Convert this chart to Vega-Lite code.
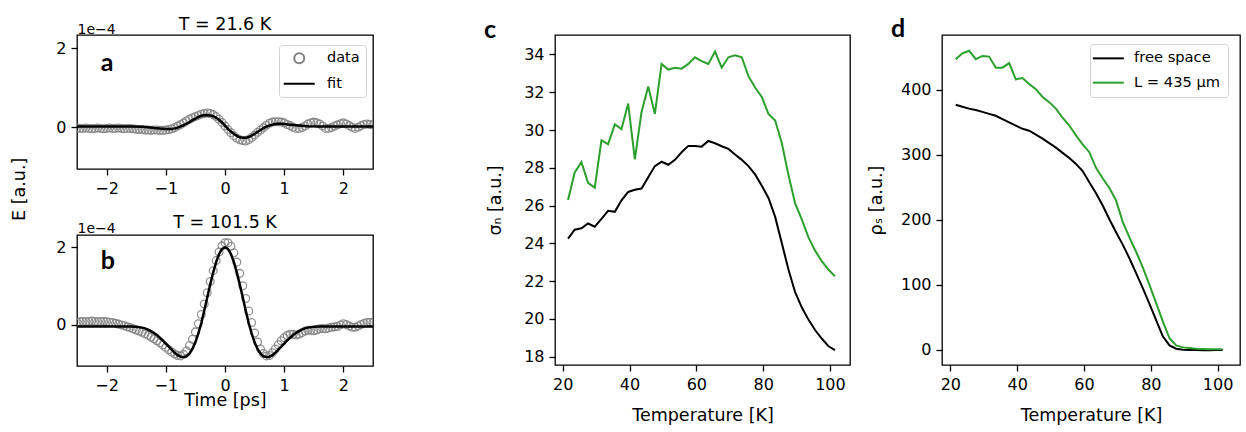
{
"$schema": "https://vega.github.io/schema/vega-lite/v6.json",
"background": "white",
"padding": {"left": 11, "top": 13, "right": 2, "bottom": 2},
"config": {
  "font": "DejaVu Sans",
  "view": {"stroke": "black", "strokeWidth": 1.3},
  "axis": {"domain": false, "grid": false, "tickColor": "black", "tickSize": 6, "tickWidth": 1.3, "labelColor": "black", "labelFont": "DejaVu Sans", "labelFontSize": 16, "labelPadding": 5, "titleColor": "black", "titleFont": "DejaVu Sans", "titleFontSize": 17.5, "titleFontWeight": "normal", "labelFlush": false, "labelOverlap": false},
  "title": {"font": "DejaVu Sans", "fontSize": 17.5, "fontWeight": "normal", "color": "black"},
  "legend": {"labelFont": "DejaVu Sans", "labelColor": "black"}
},
"datasets": {
  "a_data": [
{"t":-2.5,"E":-0.02},{"t":-2.45,"E":-0.03},{"t":-2.4,"E":-0.03},{"t":-2.35,"E":-0.02},{"t":-2.3,"E":-0.03},{"t":-2.25,"E":-0.04},{"t":-2.2,"E":-0.03},{"t":-2.15,"E":-0.02},{"t":-2.1,"E":-0.03},{"t":-2.05,"E":-0.04},
{"t":-2.0,"E":-0.03},{"t":-1.95,"E":-0.02},{"t":-1.9,"E":-0.03},{"t":-1.85,"E":-0.03},{"t":-1.8,"E":-0.02},{"t":-1.75,"E":-0.03},{"t":-1.7,"E":-0.04},{"t":-1.65,"E":-0.03},{"t":-1.6,"E":-0.03},{"t":-1.55,"E":-0.04},
{"t":-1.5,"E":-0.05},{"t":-1.45,"E":-0.06},{"t":-1.4,"E":-0.06},{"t":-1.35,"E":-0.07},{"t":-1.3,"E":-0.07},{"t":-1.25,"E":-0.08},{"t":-1.2,"E":-0.07},{"t":-1.15,"E":-0.07},{"t":-1.1,"E":-0.08},{"t":-1.05,"E":-0.08},
{"t":-1.0,"E":-0.07},{"t":-0.95,"E":-0.06},{"t":-0.9,"E":-0.04},{"t":-0.85,"E":-0.01},{"t":-0.8,"E":0.03},{"t":-0.75,"E":0.07},{"t":-0.7,"E":0.11},{"t":-0.65,"E":0.16},{"t":-0.6,"E":0.2},{"t":-0.55,"E":0.24},
{"t":-0.5,"E":0.27},{"t":-0.45,"E":0.3},{"t":-0.4,"E":0.33},{"t":-0.35,"E":0.35},{"t":-0.3,"E":0.36},{"t":-0.25,"E":0.35},{"t":-0.2,"E":0.32},{"t":-0.15,"E":0.27},{"t":-0.1,"E":0.2},{"t":-0.05,"E":0.12},
{"t":0.0,"E":0.03},{"t":0.05,"E":-0.06},{"t":0.1,"E":-0.14},{"t":0.15,"E":-0.22},{"t":0.2,"E":-0.28},{"t":0.25,"E":-0.32},{"t":0.3,"E":-0.34},{"t":0.35,"E":-0.35},{"t":0.4,"E":-0.31},{"t":0.45,"E":-0.26},
{"t":0.5,"E":-0.2},{"t":0.55,"E":-0.13},{"t":0.6,"E":-0.07},{"t":0.65,"E":-0.01},{"t":0.7,"E":0.05},{"t":0.75,"E":0.1},{"t":0.8,"E":0.13},{"t":0.85,"E":0.14},{"t":0.9,"E":0.14},{"t":0.95,"E":0.13},
{"t":1.0,"E":0.11},{"t":1.05,"E":0.07},{"t":1.1,"E":0.04},{"t":1.15,"E":0.0},{"t":1.2,"E":-0.03},{"t":1.25,"E":-0.03},{"t":1.3,"E":-0.01},{"t":1.35,"E":0.03},{"t":1.4,"E":0.08},{"t":1.45,"E":0.11},
{"t":1.5,"E":0.13},{"t":1.55,"E":0.11},{"t":1.6,"E":0.08},{"t":1.65,"E":0.03},{"t":1.7,"E":-0.03},{"t":1.75,"E":-0.03},{"t":1.8,"E":-0.01},{"t":1.85,"E":0.03},{"t":1.9,"E":0.06},{"t":1.95,"E":0.09},
{"t":2.0,"E":0.11},{"t":2.05,"E":0.08},{"t":2.1,"E":0.04},{"t":2.15,"E":0.0},{"t":2.2,"E":-0.03},{"t":2.25,"E":0.0},{"t":2.3,"E":0.04},{"t":2.35,"E":0.07},{"t":2.4,"E":0.08},{"t":2.45,"E":0.07},{"t":2.5,"E":0.06}
  ],
  "a_fit": [
{"t":-2.5,"E":0.02},{"t":-2.0,"E":0.02},{"t":-1.6,"E":0.02},{"t":-1.4,"E":0.01},{"t":-1.3,"E":0.0},{"t":-1.2,"E":-0.02},{"t":-1.1,"E":-0.035},{"t":-1.0,"E":-0.045},{"t":-0.9,"E":-0.045},{"t":-0.85,"E":-0.03},
{"t":-0.8,"E":-0.01},{"t":-0.75,"E":0.02},{"t":-0.7,"E":0.05},{"t":-0.65,"E":0.09},{"t":-0.6,"E":0.13},{"t":-0.55,"E":0.18},{"t":-0.5,"E":0.22},{"t":-0.45,"E":0.26},{"t":-0.4,"E":0.29},{"t":-0.35,"E":0.305},
{"t":-0.3,"E":0.31},{"t":-0.25,"E":0.3},{"t":-0.2,"E":0.28},{"t":-0.15,"E":0.24},{"t":-0.1,"E":0.19},{"t":-0.05,"E":0.12},{"t":0.0,"E":0.04},{"t":0.05,"E":-0.04},{"t":0.1,"E":-0.11},{"t":0.15,"E":-0.17},
{"t":0.2,"E":-0.22},{"t":0.25,"E":-0.255},{"t":0.3,"E":-0.27},{"t":0.35,"E":-0.27},{"t":0.4,"E":-0.25},{"t":0.45,"E":-0.215},{"t":0.5,"E":-0.17},{"t":0.55,"E":-0.12},{"t":0.6,"E":-0.07},{"t":0.65,"E":-0.025},
{"t":0.7,"E":0.015},{"t":0.75,"E":0.045},{"t":0.8,"E":0.065},{"t":0.85,"E":0.08},{"t":0.9,"E":0.085},{"t":0.95,"E":0.085},{"t":1.0,"E":0.08},{"t":1.1,"E":0.065},{"t":1.2,"E":0.05},{"t":1.3,"E":0.035},
{"t":1.4,"E":0.025},{"t":1.6,"E":0.02},{"t":2.0,"E":0.02},{"t":2.5,"E":0.02}
  ],
  "b_data": [
{"t":-2.5,"E":0.07},{"t":-2.45,"E":0.08},{"t":-2.4,"E":0.09},{"t":-2.35,"E":0.08},{"t":-2.3,"E":0.09},{"t":-2.25,"E":0.1},{"t":-2.2,"E":0.09},{"t":-2.15,"E":0.08},{"t":-2.1,"E":0.09},{"t":-2.05,"E":0.09},
{"t":-2.0,"E":0.08},{"t":-1.95,"E":0.07},{"t":-1.9,"E":0.06},{"t":-1.85,"E":0.04},{"t":-1.8,"E":0.02},{"t":-1.75,"E":0.0},{"t":-1.7,"E":-0.02},{"t":-1.65,"E":-0.05},{"t":-1.6,"E":-0.07},{"t":-1.55,"E":-0.1},
{"t":-1.5,"E":-0.13},{"t":-1.45,"E":-0.16},{"t":-1.4,"E":-0.19},{"t":-1.35,"E":-0.23},{"t":-1.3,"E":-0.27},{"t":-1.25,"E":-0.31},{"t":-1.2,"E":-0.36},{"t":-1.15,"E":-0.41},{"t":-1.1,"E":-0.46},{"t":-1.05,"E":-0.52},
{"t":-1.0,"E":-0.58},{"t":-0.95,"E":-0.64},{"t":-0.9,"E":-0.7},{"t":-0.85,"E":-0.75},{"t":-0.8,"E":-0.79},{"t":-0.75,"E":-0.8},{"t":-0.7,"E":-0.76},{"t":-0.65,"E":-0.67},{"t":-0.6,"E":-0.53},{"t":-0.55,"E":-0.37},
{"t":-0.5,"E":-0.18},{"t":-0.45,"E":0.03},{"t":-0.4,"E":0.27},{"t":-0.35,"E":0.54},{"t":-0.3,"E":0.83},{"t":-0.25,"E":1.12},{"t":-0.2,"E":1.4},{"t":-0.15,"E":1.66},{"t":-0.1,"E":1.88},{"t":-0.05,"E":2.04},
{"t":0.0,"E":2.12},{"t":0.05,"E":2.12},{"t":0.1,"E":2.03},{"t":0.15,"E":1.86},{"t":0.2,"E":1.62},{"t":0.25,"E":1.33},{"t":0.3,"E":1.01},{"t":0.35,"E":0.68},{"t":0.4,"E":0.36},{"t":0.45,"E":0.06},
{"t":0.5,"E":-0.21},{"t":0.55,"E":-0.44},{"t":0.6,"E":-0.62},{"t":0.65,"E":-0.74},{"t":0.7,"E":-0.8},{"t":0.75,"E":-0.79},{"t":0.8,"E":-0.72},{"t":0.85,"E":-0.62},{"t":0.9,"E":-0.51},{"t":0.95,"E":-0.41},
{"t":1.0,"E":-0.33},{"t":1.05,"E":-0.27},{"t":1.1,"E":-0.24},{"t":1.15,"E":-0.24},{"t":1.2,"E":-0.26},{"t":1.25,"E":-0.24},{"t":1.3,"E":-0.2},{"t":1.35,"E":-0.16},{"t":1.4,"E":-0.14},{"t":1.45,"E":-0.14},
{"t":1.5,"E":-0.15},{"t":1.55,"E":-0.13},{"t":1.6,"E":-0.1},{"t":1.65,"E":-0.09},{"t":1.7,"E":-0.1},{"t":1.75,"E":-0.08},{"t":1.8,"E":-0.06},{"t":1.85,"E":-0.05},{"t":1.9,"E":-0.04},{"t":1.95,"E":0.0},
{"t":2.0,"E":0.03},{"t":2.05,"E":0.01},{"t":2.1,"E":-0.03},{"t":2.15,"E":-0.06},{"t":2.2,"E":-0.06},{"t":2.25,"E":-0.03},{"t":2.3,"E":0.01},{"t":2.35,"E":0.04},{"t":2.4,"E":0.06},{"t":2.45,"E":0.07},{"t":2.5,"E":0.06}
  ],
  "b_fit": [
{"t":-2.5,"E":-0.04},{"t":-2.0,"E":-0.04},{"t":-1.6,"E":-0.04},{"t":-1.5,"E":-0.05},{"t":-1.4,"E":-0.07},{"t":-1.35,"E":-0.09},{"t":-1.3,"E":-0.12},{"t":-1.25,"E":-0.16},{"t":-1.2,"E":-0.21},{"t":-1.15,"E":-0.26},
{"t":-1.1,"E":-0.33},{"t":-1.05,"E":-0.4},{"t":-1.0,"E":-0.48},{"t":-0.95,"E":-0.56},{"t":-0.9,"E":-0.64},{"t":-0.85,"E":-0.72},{"t":-0.8,"E":-0.78},{"t":-0.75,"E":-0.82},{"t":-0.7,"E":-0.83},{"t":-0.65,"E":-0.81},
{"t":-0.6,"E":-0.74},{"t":-0.55,"E":-0.62},{"t":-0.5,"E":-0.45},{"t":-0.45,"E":-0.22},{"t":-0.4,"E":0.05},{"t":-0.35,"E":0.37},{"t":-0.3,"E":0.71},{"t":-0.25,"E":1.04},{"t":-0.2,"E":1.35},{"t":-0.15,"E":1.62},
{"t":-0.1,"E":1.83},{"t":-0.05,"E":1.96},{"t":0.0,"E":2.0},{"t":0.05,"E":1.96},{"t":0.1,"E":1.83},{"t":0.15,"E":1.62},{"t":0.2,"E":1.35},{"t":0.25,"E":1.04},{"t":0.3,"E":0.71},{"t":0.35,"E":0.37},
{"t":0.4,"E":0.05},{"t":0.45,"E":-0.22},{"t":0.5,"E":-0.45},{"t":0.55,"E":-0.62},{"t":0.6,"E":-0.74},{"t":0.65,"E":-0.81},{"t":0.7,"E":-0.83},{"t":0.75,"E":-0.82},{"t":0.8,"E":-0.78},{"t":0.85,"E":-0.72},
{"t":0.9,"E":-0.64},{"t":0.95,"E":-0.56},{"t":1.0,"E":-0.48},{"t":1.05,"E":-0.4},{"t":1.1,"E":-0.33},{"t":1.15,"E":-0.26},{"t":1.2,"E":-0.21},{"t":1.25,"E":-0.16},{"t":1.3,"E":-0.12},{"t":1.35,"E":-0.09},
{"t":1.4,"E":-0.07},{"t":1.5,"E":-0.05},{"t":1.6,"E":-0.04},{"t":2.0,"E":-0.04},{"t":2.5,"E":-0.04}
  ],
  "cd": [
{"T":21.6,"series":"free space","sigma":24.25,"rho":377},{"T":23.6,"series":"free space","sigma":24.72,"rho":374},{"T":25.6,"series":"free space","sigma":24.8,"rho":371},{"T":27.6,"series":"free space","sigma":25.05,"rho":369},
{"T":29.6,"series":"free space","sigma":24.88,"rho":366},{"T":31.6,"series":"free space","sigma":25.3,"rho":363},{"T":33.6,"series":"free space","sigma":25.72,"rho":360},{"T":35.6,"series":"free space","sigma":25.67,"rho":355},
{"T":37.6,"series":"free space","sigma":26.28,"rho":350},{"T":39.6,"series":"free space","sigma":26.72,"rho":345},{"T":41.6,"series":"free space","sigma":26.84,"rho":340},{"T":43.6,"series":"free space","sigma":26.9,"rho":337},
{"T":45.6,"series":"free space","sigma":27.5,"rho":331},{"T":47.6,"series":"free space","sigma":28.09,"rho":325},{"T":49.6,"series":"free space","sigma":28.32,"rho":318},{"T":51.6,"series":"free space","sigma":28.16,"rho":311},
{"T":53.6,"series":"free space","sigma":28.42,"rho":303},{"T":55.6,"series":"free space","sigma":28.82,"rho":295},{"T":57.6,"series":"free space","sigma":29.16,"rho":286},{"T":59.6,"series":"free space","sigma":29.16,"rho":275},
{"T":61.6,"series":"free space","sigma":29.12,"rho":258},{"T":63.6,"series":"free space","sigma":29.42,"rho":241},{"T":65.6,"series":"free space","sigma":29.3,"rho":222},{"T":67.6,"series":"free space","sigma":29.14,"rho":201},
{"T":69.6,"series":"free space","sigma":29.0,"rho":181},{"T":71.6,"series":"free space","sigma":28.7,"rho":162},{"T":73.6,"series":"free space","sigma":28.42,"rho":141},{"T":75.6,"series":"free space","sigma":28.09,"rho":118},
{"T":77.6,"series":"free space","sigma":27.65,"rho":95},{"T":79.6,"series":"free space","sigma":27.05,"rho":71},{"T":81.6,"series":"free space","sigma":26.4,"rho":46},{"T":83.6,"series":"free space","sigma":25.4,"rho":21},
{"T":85.6,"series":"free space","sigma":24.0,"rho":7},{"T":87.6,"series":"free space","sigma":22.6,"rho":2},{"T":89.6,"series":"free space","sigma":21.4,"rho":0.5},{"T":91.6,"series":"free space","sigma":20.6,"rho":0},
{"T":93.6,"series":"free space","sigma":19.95,"rho":0},{"T":95.6,"series":"free space","sigma":19.4,"rho":-0.5},{"T":97.6,"series":"free space","sigma":18.95,"rho":-0.5},{"T":99.6,"series":"free space","sigma":18.55,"rho":0},
{"T":101.5,"series":"free space","sigma":18.35,"rho":0},
{"T":21.6,"series":"L = 435 μm","sigma":26.3,"rho":447},{"T":23.6,"series":"L = 435 μm","sigma":27.75,"rho":456},{"T":25.6,"series":"L = 435 μm","sigma":28.3,"rho":460},{"T":27.6,"series":"L = 435 μm","sigma":27.2,"rho":447},
{"T":29.6,"series":"L = 435 μm","sigma":26.95,"rho":452},{"T":31.6,"series":"L = 435 μm","sigma":29.45,"rho":451},{"T":33.6,"series":"L = 435 μm","sigma":29.25,"rho":434},{"T":35.6,"series":"L = 435 μm","sigma":30.3,"rho":434},
{"T":37.6,"series":"L = 435 μm","sigma":30.05,"rho":441},{"T":39.6,"series":"L = 435 μm","sigma":31.4,"rho":416},{"T":41.6,"series":"L = 435 μm","sigma":28.45,"rho":418},{"T":43.6,"series":"L = 435 μm","sigma":30.95,"rho":409},
{"T":45.6,"series":"L = 435 μm","sigma":32.3,"rho":401},{"T":47.6,"series":"L = 435 μm","sigma":30.85,"rho":389},{"T":49.6,"series":"L = 435 μm","sigma":33.5,"rho":381},{"T":51.6,"series":"L = 435 μm","sigma":33.2,"rho":371},
{"T":53.6,"series":"L = 435 μm","sigma":33.3,"rho":357},{"T":55.6,"series":"L = 435 μm","sigma":33.25,"rho":345},{"T":57.6,"series":"L = 435 μm","sigma":33.5,"rho":330},{"T":59.6,"series":"L = 435 μm","sigma":33.85,"rho":316},
{"T":61.6,"series":"L = 435 μm","sigma":33.65,"rho":304},{"T":63.6,"series":"L = 435 μm","sigma":33.5,"rho":280},{"T":65.6,"series":"L = 435 μm","sigma":34.15,"rho":264},{"T":67.6,"series":"L = 435 μm","sigma":33.3,"rho":249},
{"T":69.6,"series":"L = 435 μm","sigma":33.85,"rho":230},{"T":71.6,"series":"L = 435 μm","sigma":33.95,"rho":197},{"T":73.6,"series":"L = 435 μm","sigma":33.85,"rho":173},{"T":75.6,"series":"L = 435 μm","sigma":32.85,"rho":151},
{"T":77.6,"series":"L = 435 μm","sigma":32.25,"rho":127},{"T":79.6,"series":"L = 435 μm","sigma":31.75,"rho":100},{"T":81.6,"series":"L = 435 μm","sigma":30.85,"rho":72},{"T":83.6,"series":"L = 435 μm","sigma":30.5,"rho":44},
{"T":85.6,"series":"L = 435 μm","sigma":29.3,"rho":18},{"T":87.6,"series":"L = 435 μm","sigma":27.6,"rho":7},{"T":89.6,"series":"L = 435 μm","sigma":26.1,"rho":4},{"T":91.6,"series":"L = 435 μm","sigma":25.25,"rho":3},
{"T":93.6,"series":"L = 435 μm","sigma":24.3,"rho":2},{"T":95.6,"series":"L = 435 μm","sigma":23.6,"rho":1.5},{"T":97.6,"series":"L = 435 μm","sigma":23.05,"rho":1},{"T":99.6,"series":"L = 435 μm","sigma":22.6,"rho":1},
{"T":101.5,"series":"L = 435 μm","sigma":22.25,"rho":1}
  ]
},
"resolve": {"scale": {"color": "independent"}},
"spacing": 109,
"hconcat": [
  {
    "vconcat": [
      {
        "width": 296, "height": 134,
        "title": {"text": "T = 21.6 K", "offset": -11.6},
        "layer": [
          {
            "data": {"name": "a_data"},
            "mark": {"type": "point", "filled": false, "size": 60, "strokeWidth": 1.3, "opacity": 0.85, "clip": true},
            "encoding": {
              "x": {"field": "t", "type": "quantitative", "scale": {"domain": [-2.5, 2.5], "nice": false, "zero": false}, "axis": {"values": [-2, -1, 0, 1, 2], "format": "d", "title": null}},
              "y": {"field": "E", "type": "quantitative", "scale": {"domain": [-1.06, 2.34], "nice": false, "zero": false}, "axis": {"values": [0, 2], "format": "d", "title": "1e−4", "titleAngle": 0, "titleX": 0, "titleY": -2, "titleAlign": "left", "titleBaseline": "alphabetic", "titleFontSize": 14}},
              "color": {"datum": "data", "type": "nominal", "scale": {"domain": ["data", "fit"], "range": ["#808080", "black"]},
                "legend": {"title": null, "orient": "none", "legendX": 202, "legendY": 10, "padding": 6, "symbolSize": 100, "symbolType": "M-3.1,0H3.1", "symbolStrokeWidth": 2, "symbolOffset": 7, "labelOffset": 20.5, "rowPadding": 7.5, "labelFontSize": 14.5, "strokeColor": "#d3d3d3", "fillColor": "white", "cornerRadius": 3, "symbolOpacity": 1}},
              "shape": {"datum": "data", "type": "nominal", "scale": {"domain": ["data", "fit"], "range": ["circle", "M-3.1,0H3.1"]}}
            }
          },
          {
            "data": {"name": "a_fit"},
            "mark": {"type": "line", "strokeWidth": 2.5, "clip": true},
            "encoding": {
              "x": {"field": "t", "type": "quantitative"},
              "y": {"field": "E", "type": "quantitative"},
              "color": {"datum": "fit", "type": "nominal"}
            }
          },
          {
            "data": {"values": [{"label": "a"}]},
            "mark": {"type": "text", "font": "Lato", "fontWeight": "bold", "fontSize": 25, "align": "left", "baseline": "alphabetic", "color": "black"},
            "encoding": {"text": {"field": "label"}, "x": {"datum": -2.1}, "y": {"datum": 1.43}}
          }
        ]
      },
      {
        "width": 296, "height": 131,
        "title": {"text": "T = 101.5 K", "offset": -10.4},
        "layer": [
          {
            "data": {"name": "b_data"},
            "mark": {"type": "point", "filled": false, "size": 60, "strokeWidth": 1.3, "opacity": 0.85, "color": "#808080", "clip": true},
            "encoding": {
              "x": {"field": "t", "type": "quantitative", "scale": {"domain": [-2.5, 2.5], "nice": false, "zero": false}, "axis": {"values": [-2, -1, 0, 1, 2], "format": "d", "title": "Time [ps]", "titleY": 39, "titleBaseline": "alphabetic"}},
              "y": {"field": "E", "type": "quantitative", "scale": {"domain": [-1.06, 2.32], "nice": false, "zero": false}, "axis": {"values": [0, 2], "format": "d", "title": "1e−4", "titleAngle": 0, "titleX": 0, "titleY": -3, "titleAlign": "left", "titleBaseline": "alphabetic", "titleFontSize": 14}}
            }
          },
          {
            "data": {"name": "b_fit"},
            "mark": {"type": "line", "strokeWidth": 2.5, "color": "black", "clip": true},
            "encoding": {
              "x": {"field": "t", "type": "quantitative"},
              "y": {"field": "E", "type": "quantitative"}
            }
          },
          {
            "data": {"values": [{"label": "b"}]},
            "mark": {"type": "text", "font": "Lato", "fontWeight": "bold", "fontSize": 25, "align": "left", "baseline": "alphabetic", "color": "black"},
            "encoding": {"text": {"field": "label"}, "x": {"datum": -2.1}, "y": {"datum": 1.45}}
          }
        ]
      }
    ],
    "spacing": 66,
    "bounds": "flush",
    "title": {"text": "E [a.u.]", "orient": "left", "anchor": "middle", "frame": "bounds", "offset": 26.6, "dx": 23},
    "resolve": {"scale": {"color": "independent", "shape": "independent"}}
  },
  {
    "hconcat": [
      {
        "width": 295, "height": 330,
        "title": {"text": " ", "offset": -13.7},
        "layer": [
          {
            "data": {"name": "cd"},
            "mark": {"type": "line", "strokeWidth": 2, "clip": true},
            "encoding": {
              "x": {"field": "T", "type": "quantitative", "scale": {"domain": [17.7, 106.0], "nice": false, "zero": false}, "axis": {"values": [20, 40, 60, 80, 100], "title": "Temperature [K]", "titleY": 55, "titleBaseline": "alphabetic"}},
              "y": {"field": "sigma", "type": "quantitative", "scale": {"domain": [17.56, 35.03], "nice": false, "zero": false}, "axis": {"values": [18, 20, 22, 24, 26, 28, 30, 32, 34], "title": "σₙ [a.u.]", "titleX": -60, "titleBaseline": "middle"}},
              "color": {"field": "series", "type": "nominal", "scale": {"domain": ["free space", "L = 435 μm"], "range": ["black", "#2ca02c"]}, "legend": null}
            }
          },
          {
            "data": {"values": [{"label": "c"}]},
            "mark": {"type": "text", "font": "Lato", "fontWeight": "bold", "fontSize": 25, "align": "left", "baseline": "alphabetic", "color": "black"},
            "encoding": {"text": {"field": "label"}, "x": {"datum": -3.52}, "y": {"datum": 34.887}}
          }
        ]
      },
      {
        "width": 298, "height": 330,
        "title": {"text": " ", "offset": -14},
        "layer": [
          {
            "data": {"name": "cd"},
            "mark": {"type": "line", "strokeWidth": 2, "clip": true},
            "encoding": {
              "x": {"field": "T", "type": "quantitative", "scale": {"domain": [17.5, 106.7], "nice": false, "zero": false}, "axis": {"values": [20, 40, 60, 80, 100], "title": "Temperature [K]", "titleY": 55, "titleBaseline": "alphabetic"}},
              "y": {"field": "rho", "type": "quantitative", "scale": {"domain": [-23.1, 484.2], "nice": false, "zero": false}, "axis": {"values": [0, 100, 200, 300, 400], "title": "ρₛ [a.u.]", "titleX": -65.3, "titleBaseline": "middle"}},
              "color": {"field": "series", "type": "nominal", "scale": {"domain": ["free space", "L = 435 μm"], "range": ["black", "#2ca02c"]},
                "legend": {"title": null, "orient": "none", "legendX": 148, "legendY": 9, "padding": 7, "symbolType": "M-3.1,0H3.1", "symbolSize": 100, "symbolStrokeWidth": 2, "symbolOffset": 4, "labelOffset": 18.3, "rowPadding": 8.3, "labelFontSize": 14.7, "strokeColor": "#d3d3d3", "fillColor": "white", "cornerRadius": 3}}
            }
          },
          {
            "data": {"values": [{"label": "d"}]},
            "mark": {"type": "text", "font": "Lato", "fontWeight": "bold", "fontSize": 25, "align": "left", "baseline": "alphabetic", "color": "black"},
            "encoding": {"text": {"field": "label"}, "x": {"datum": 2.24}, "y": {"datum": 480.5}}
          }
        ]
      }
    ],
    "spacing": 16,
    "resolve": {"scale": {"color": "independent"}}
  }
]
}
